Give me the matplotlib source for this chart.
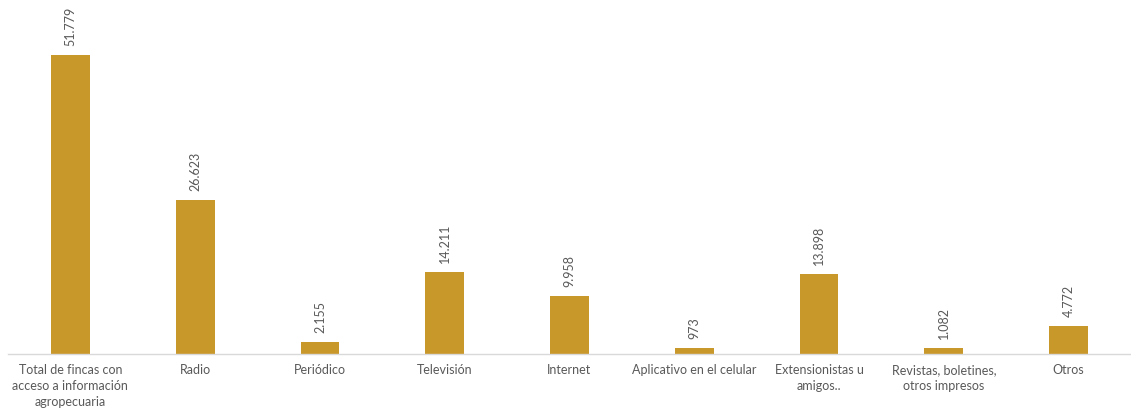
import matplotlib
matplotlib.use("Agg")
import matplotlib.pyplot as plt

categories = ["Total de fincas con\nacceso a información\nagropecuaria", "Radio", "Periódico",
              "Televisión", "Internet", "Aplicativo en el celular",
              "Extensionistas u\namigos..", "Revistas, boletines,\notros impresos", "Otros"]
values = [51779, 26623, 2155, 14211, 9958, 973, 13898, 1082, 4772]
value_labels = ["51.779", "26.623", "2.155", "14.211", "9.958", "973", "13.898", "1.082", "4.772"]

plt.rcParams['font.family'] = ['Lato', 'DejaVu Sans']

fig = plt.figure(figsize=(11.31, 4.09), dpi=100)
ax = fig.add_axes([8/1131, (409-354)/409, 1 - 8/1131, 354/409])
x = list(range(len(categories)))
ax.bar(x, values, width=0.31, color="#C8982A")
ax.set_xlim(-0.5, len(categories) - 0.5)
ax.set_ylim(0, 61300)
for xi, v, lab in zip(x, values, value_labels):
    ax.annotate(lab, (xi, v), xytext=(0, 6.5), textcoords="offset points",
                rotation=90, ha="center", va="bottom", fontsize=9, color="#595959")
ax.set_xticks(x)
ax.set_xticklabels(categories, fontsize=9, color="#595959", linespacing=1.36)
for t in ax.get_xticklabels():
    t.set_multialignment("center")
ax.tick_params(axis="x", length=0, pad=7.5)
ax.set_yticks([])
for s in ["top", "right", "left"]:
    ax.spines[s].set_visible(False)
ax.spines["bottom"].set_color("#D9D9D9")
ax.spines["bottom"].set_linewidth(1)
fig.savefig("out.png", dpi=100)
